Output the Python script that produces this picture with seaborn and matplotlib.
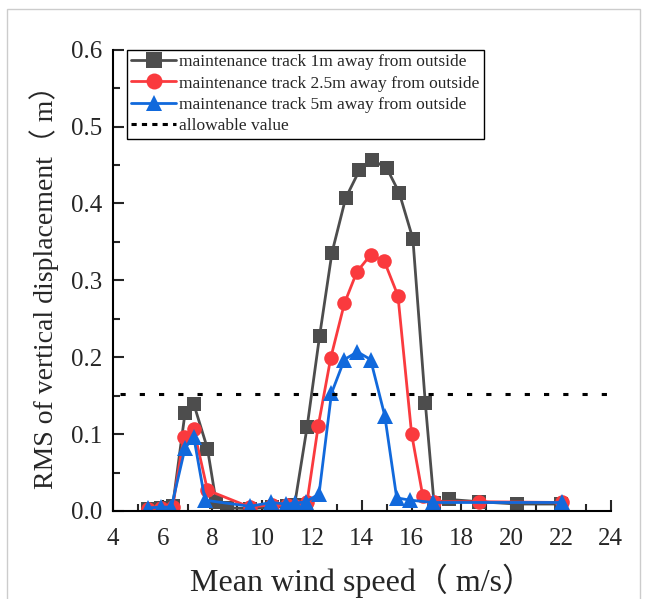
import matplotlib
matplotlib.use("Agg")
from matplotlib import pyplot as plt
from matplotlib.lines import Line2D
from matplotlib.patches import Rectangle
from matplotlib.ticker import MultipleLocator
import seaborn as sns


# wind speed (m/s) and RMS of vertical displacement (m) per track position
speed_1m = [5.4, 5.95, 6.4, 6.9, 7.25, 7.8, 8.15, 8.6, 9.5, 10.4, 11.0, 11.3, 11.8,
            12.3, 12.8, 13.35, 13.9, 14.4, 15.0, 15.5, 16.05, 16.55, 16.9, 17.5,
            18.7, 20.25, 22.0]
rms_1m = [0.003, 0.004, 0.006, 0.128, 0.139, 0.081, 0.011, 0.004, 0.003, 0.005, 0.006,
          0.008, 0.109, 0.227, 0.336, 0.407, 0.443, 0.457, 0.446, 0.414, 0.354, 0.140,
          0.010, 0.015, 0.012, 0.009, 0.009]

speed_2_5m = [5.4, 5.95, 6.4, 6.85, 7.25, 7.8, 9.5, 10.4, 11.0, 11.3, 11.8, 12.25,
              12.75, 13.3, 13.8, 14.35, 14.9, 15.45, 16.0, 16.45, 16.9, 18.7, 22.05]
rms_2_5m = [0.003, 0.004, 0.005, 0.096, 0.106, 0.027, 0.005, 0.008, 0.008, 0.007,
            0.012, 0.111, 0.199, 0.270, 0.311, 0.333, 0.325, 0.280, 0.100, 0.019,
            0.012, 0.012, 0.011]

speed_5m = [5.4, 5.95, 6.35, 6.9, 7.25, 7.7, 9.5, 10.35, 10.95, 11.3, 11.75, 12.28,
            12.78, 13.3, 13.82, 14.35, 14.92, 15.4, 15.95, 16.87, 22.05]
rms_5m = [0.004, 0.005, 0.005, 0.082, 0.096, 0.014, 0.006, 0.011, 0.009, 0.010, 0.012,
          0.022, 0.153, 0.197, 0.207, 0.197, 0.124, 0.017, 0.014, 0.011, 0.011]

allowable = 0.152

labels = ["maintenance track 1m away from outside",
          "maintenance track 2.5m away from outside",
          "maintenance track 5m away from outside",
          "allowable value"]
colors = ["#4d4d4d", "#fa3a3e", "#1169dc"]
markers = ["s", "o", "^"]
sizes = [10, 10.5, 11]

sns.set_style("ticks")
plt.rcParams["font.family"] = ["Liberation Serif", "Noto Sans CJK SC"]

fig = plt.figure(figsize=(6.45, 5.99), dpi=100)
ax = fig.add_axes([0.175, 0.147, 0.772, 0.770])

series = [(speed_1m, rms_1m), (speed_2_5m, rms_2_5m), (speed_5m, rms_5m)]
for (xs, ys), c, m, s, lab in zip(series, colors, markers, sizes, labels):
    sns.lineplot(x=xs, y=ys, ax=ax, sort=False, color=c, marker=m,
                 markersize=s, markeredgewidth=0, linewidth=2.0, label=lab,
                 legend=False)

ax.axhline(allowable, xmin=0.015, xmax=1.0, color="black", lw=2.2,
           linestyle=(0, (1.7, 4.6)))

ax.set_xlim(4, 24)
ax.set_ylim(0, 0.6)
ax.xaxis.set_major_locator(MultipleLocator(2))
ax.xaxis.set_minor_locator(MultipleLocator(1))
ax.yaxis.set_major_locator(MultipleLocator(0.1))
ax.yaxis.set_minor_locator(MultipleLocator(0.05))
ax.yaxis.set_major_formatter(matplotlib.ticker.FormatStrFormatter("%.1f"))
ax.tick_params(which="major", direction="in", length=8, width=1.5, labelsize=18,
               pad=8)
ax.tick_params(axis="x", which="major", pad=12)
ax.tick_params(which="minor", direction="in", length=5, width=1.5)
for sp in ["top", "right"]:
    ax.spines[sp].set_visible(False)
for sp in ["left", "bottom"]:
    ax.spines[sp].set_linewidth(1.5)
    ax.spines[sp].set_color("black")

ax.set_xlabel("Mean wind speed（ m/s）", fontsize=23, labelpad=10)
ax.set_ylabel("RMS of vertical displacement（ m）", fontsize=20, labelpad=8)

handles = [Line2D([], [], color=c, marker=m, markersize=s + 1, markeredgewidth=0, lw=2.0)
           for c, m, s in zip(colors, markers, sizes)]
handles.append(Line2D([], [], color="black", lw=2.2, linestyle=(0, (1.7, 1.7))))
leg = ax.legend(handles, labels, loc="upper left", bbox_to_anchor=(0.028, 1.0),
                borderaxespad=0, fontsize=12.5, frameon=True, fancybox=False,
                framealpha=1, edgecolor="black", handlelength=2.6,
                handletextpad=0.15, labelspacing=0.3, borderpad=0.25)
leg.get_frame().set_linewidth(1.0)

fig.add_artist(Rectangle((0.011, -0.05), 0.982, 1.035, transform=fig.transFigure,
                         fill=False, edgecolor="#cccccc", lw=1.0))

fig.savefig("out.png", dpi=100)
